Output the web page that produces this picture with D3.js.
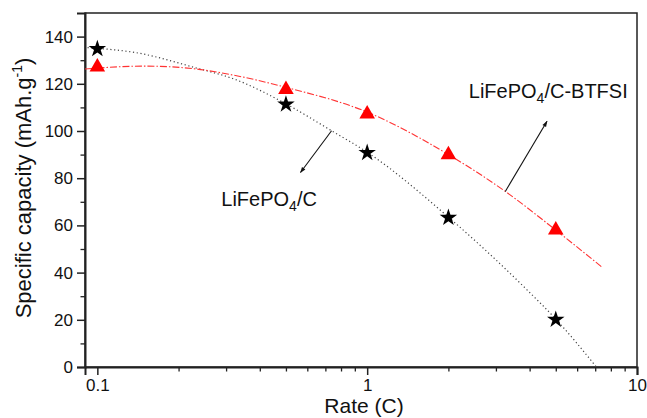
<!DOCTYPE html>
<html><head><meta charset="utf-8">
<script src="https://cdn.jsdelivr.net/npm/d3@7"></script>
<style>body{margin:0;background:#fff;} text{font-family:"Liberation Sans",Arial,sans-serif;fill:#111;}</style>
</head><body>
<svg id="c" width="647" height="418"></svg>
<script>
// Data
const rates = [0.1, 0.5, 1, 2, 5];
const capC = [135, 111.5, 91, 63.5, 20.3];        // LiFePO4/C (stars)
const capBTFSI = [127.5, 118, 107.6, 90.4, 58.5];  // LiFePO4/C-BTFSI (triangles)
// fitted curves
const fitC = [[0.092,135.3],[0.139,133.2],[0.231,126.8],[0.325,121.8],[0.5,111.5],[0.738,100.1],[1,91],[2,63.5],[3.91,32.7],[5,20.3],[7.07,0]];
const fitBTFSI = [[0.09,126.3],[0.151,127.5],[0.231,126.3],[0.325,123.5],[0.5,118.5],[1,108],[2,90],[3.25,74.4],[5,58],[7.42,42.3]];
const xTicks = [0.1, 1, 10];
const xMinor = [0.2,0.3,0.4,0.5,0.6,0.7,0.8,0.9,2,3,4,5,6,7,8,9];
const yTicks = [0,20,40,60,80,100,120,140];
const yMinor = [10,30,50,70,90,110,130];

const svg = d3.select("#c");
const L=85, R=637, T=13, B=367;
const x = d3.scaleLog().domain([0.09,10]).range([L,R]);
const y = d3.scaleLinear().domain([0,150]).range([B,T]);
const axisCol = "#222";

// frame
svg.append("rect").attr("x",L).attr("y",T).attr("width",R-L).attr("height",B-T)
  .attr("fill","none").attr("stroke",axisCol).attr("stroke-width",1.5);

// x axis
const xa = svg.append("g").attr("transform",`translate(0,${B})`)
  .call(d3.axisBottom(x).tickValues(xTicks).tickSize(8).tickPadding(4).tickFormat(d3.format("")));
xa.select(".domain").attr("stroke",axisCol).attr("stroke-width",2);
xa.selectAll(".tick line").attr("stroke",axisCol).attr("stroke-width",1.5);
xa.selectAll(".tick text").attr("font-size",17).attr("fill","#111").attr("font-family","Liberation Sans, Arial, sans-serif");
const xm = svg.append("g").attr("transform",`translate(0,${B})`)
  .call(d3.axisBottom(x).tickValues(xMinor).tickSize(4.5).tickFormat(""));
xm.select(".domain").remove();
xm.selectAll(".tick line").attr("stroke",axisCol).attr("stroke-width",1.3);

// y axis
const ya = svg.append("g").attr("transform",`translate(${L},0)`)
  .call(d3.axisLeft(y).tickValues(yTicks).tickSize(8).tickPadding(4));
ya.select(".domain").attr("stroke",axisCol).attr("stroke-width",2);
ya.selectAll(".tick line").attr("stroke",axisCol).attr("stroke-width",1.5);
ya.selectAll(".tick text").attr("font-size",17).attr("fill","#111").attr("font-family","Liberation Sans, Arial, sans-serif");
const ym = svg.append("g").attr("transform",`translate(${L},0)`)
  .call(d3.axisLeft(y).tickValues(yMinor).tickSize(4.5).tickFormat(""));
ym.select(".domain").remove();
ym.selectAll(".tick line").attr("stroke",axisCol).attr("stroke-width",1.3);

// titles
svg.append("text").attr("x",364).attr("y",412.5).attr("text-anchor","middle").attr("font-size",21).text("Rate (C)");
const yt = svg.append("text").attr("transform","translate(31,188) rotate(-90)").attr("text-anchor","middle").attr("font-size",22);
yt.append("tspan").text("Specific capacity (mAh.g");
yt.append("tspan").attr("font-size",14).attr("dy",-9).text("-1");
yt.append("tspan").attr("dy",9).text(")");

// curves
const line = d3.line().x(d=>x(d[0])).y(d=>y(d[1])).curve(d3.curveMonotoneX);
svg.append("path").attr("d",line(fitC)).attr("fill","none").attr("stroke","#444")
  .attr("stroke-width",1.2).attr("stroke-dasharray","1.2,2.6");
svg.append("path").attr("d",line(fitBTFSI)).attr("fill","none").attr("stroke","#f33")
  .attr("stroke-width",1.1).attr("stroke-dasharray","7,2,1.5,2");

// markers
svg.selectAll(".star").data(rates).enter().append("path")
  .attr("d",d3.symbol().type(d3.symbolStar).size(95)())
  .attr("transform",(d,i)=>`translate(${x(d)},${y(capC[i])+0.5})`).attr("fill","#000");
svg.selectAll(".tri").data(rates).enter().append("path")
  .attr("d",d3.symbol().type(d3.symbolTriangle).size(105)())
  .attr("transform",(d,i)=>`translate(${x(d)},${y(capBTFSI[i])+1})`).attr("fill","#f00");

// arrows
const defs = svg.append("defs");
defs.append("marker").attr("id","ah").attr("viewBox","0 0 10 10").attr("refX",9).attr("refY",5)
  .attr("markerWidth",8).attr("markerHeight",6).attr("markerUnits","userSpaceOnUse").attr("orient","auto")
  .append("path").attr("d","M0,1.5 L10,5 L0,8.5 Z").attr("fill","#111");
const arrows = [[[3.25,74.4],[4.64,104.1]],[[0.738,100.1],[0.566,82.4]]];
arrows.forEach(a=>{
  svg.append("line").attr("x1",x(a[0][0])).attr("y1",y(a[0][1])).attr("x2",x(a[1][0])).attr("y2",y(a[1][1]))
    .attr("stroke","#111").attr("stroke-width",1.1).attr("marker-end","url(#ah)");
});

// labels
function lab(px,py,b){
  const t = svg.append("text").attr("x",px).attr("y",py).attr("font-size",20);
  t.append("tspan").text("LiFePO");
  t.append("tspan").attr("font-size",14).attr("dy",5).text("4");
  t.append("tspan").attr("dy",-5).text(b);
}
lab(x(2.38),y(114),"/C-BTFSI");
lab(x(0.288),y(68.3),"/C");
</script>
</body></html>
